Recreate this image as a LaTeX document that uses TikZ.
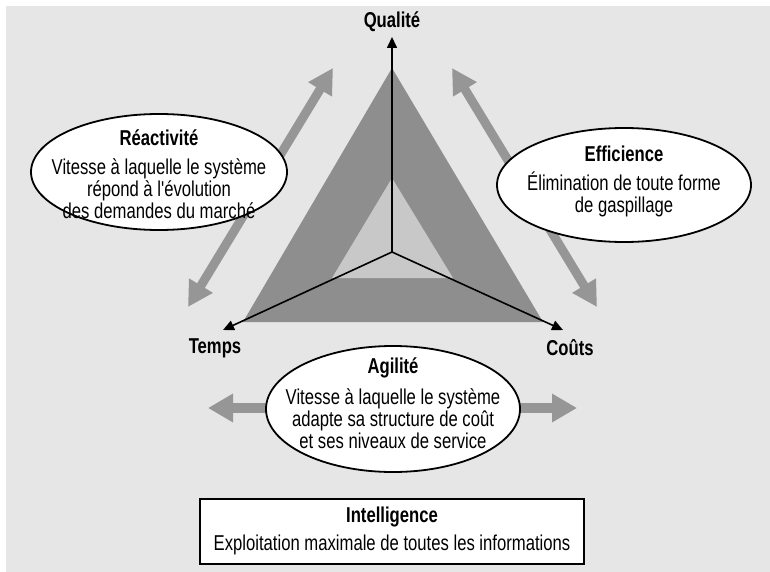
\documentclass[tikz,border=0pt]{standalone}
\usepackage{fontspec}
\setmainfont{Liberation Sans}[FakeStretch=0.775, Ligatures=TeXOff]
\usetikzlibrary{arrows.meta,shapes.geometric}
\definecolor{bggray}{HTML}{E6E6E6}
\definecolor{darktri}{HTML}{8E8E8E}
\definecolor{lighttri}{HTML}{C8C8C8}
\definecolor{arrowgray}{HTML}{969696}
\tikzset{
  txt/.style={font=\fontsize{21.5}{22}\selectfont, inner sep=0pt, align=center},
  ttl/.style={font=\fontsize{21.5}{22}\selectfont\bfseries, inner sep=0pt, align=center},
  axisline/.style={line width=1.6pt, -{Triangle[length=11pt,width=10pt]}},
  bigarrow/.style={draw=arrowgray, line width=9pt, {Triangle[length=25pt,width=26pt]}-{Triangle[length=25pt,width=26pt]}},
  sidearrow/.style={draw=arrowgray, line width=10pt, -{Triangle[length=25pt,width=27pt]}},
  oval/.style={ellipse, draw=black, fill=white, line width=1.8pt, inner sep=0pt},
  framebox/.style={rectangle, draw=black, fill=white, line width=1.8pt, inner sep=0pt}
}
\begin{document}
\begin{tikzpicture}[x=1pt,y=-1pt]
\useasboundingbox (0,0) rectangle (770,572);
\fill[white] (0,0) rectangle (770,572);
\fill[bggray] (6,6) rectangle (770,572);
% triangles
\fill[darktri] (392,68) -- (243,322) -- (543,322) -- cycle;
\fill[lighttri] (392,178) -- (332,278) -- (453,278) -- cycle;
% big gray arrows
\coordinate (la1) at (188,307);
\coordinate (la2) at (333,68);
\coordinate (ra1) at (452,68);
\coordinate (ra2) at (597,307);
\draw[bigarrow] (la1) -- (la2);
\draw[bigarrow] (ra1) -- (ra2);
\coordinate (hl0) at (320,408);
\coordinate (hl1) at (208,408);
\coordinate (hr0) at (465,408);
\coordinate (hr1) at (577,408);
\draw[sidearrow] (hl0) -- (hl1);
\draw[sidearrow] (hr0) -- (hr1);
% axes
\coordinate (O) at (392,252);
\coordinate (qtip) at (392,37);
\coordinate (ttip) at (223,330);
\coordinate (ctip) at (563,330);
\draw[axisline] (O) -- (qtip);
\draw[axisline] (O) -- (ttip);
\draw[axisline] (O) -- (ctip);
\node[ttl] (qual) at (392,22) {Qualité};
\node[ttl] (temps) at (215,348) {Temps};
\node[ttl] (couts) at (570,348) {Coûts};
% ellipses
\node[oval, minimum width=256pt, minimum height=116pt] (reac) at (159,172) {};
\node[ttl] (react) at (159,138) {Réactivité};
\node[txt] (reacb) at (159,189) {Vitesse à laquelle le système\\répond à l'évolution\\des demandes du marché};
\node[oval, minimum width=254pt, minimum height=114pt] (eff) at (624,185) {};
\node[ttl] (efft) at (624,154) {Efficience};
\node[txt] (effb) at (624,194) {Élimination de toute forme\\de gaspillage};
\node[oval, minimum width=254pt, minimum height=126pt] (agi) at (393,409) {};
\node[ttl] (agit) at (393,368) {Agilité};
\node[txt] (agib) at (393,419) {Vitesse à laquelle le système\\adapte sa structure de coût\\et ses niveaux de service};
% box
\node[framebox, minimum width=384pt, minimum height=65pt] (intel) at (392,531.5) {};
\node[ttl] (intelt) at (392,517) {Intelligence};
\node[txt] (intelb) at (392,545) {Exploitation maximale de toutes les informations};
\end{tikzpicture}
\end{document}
